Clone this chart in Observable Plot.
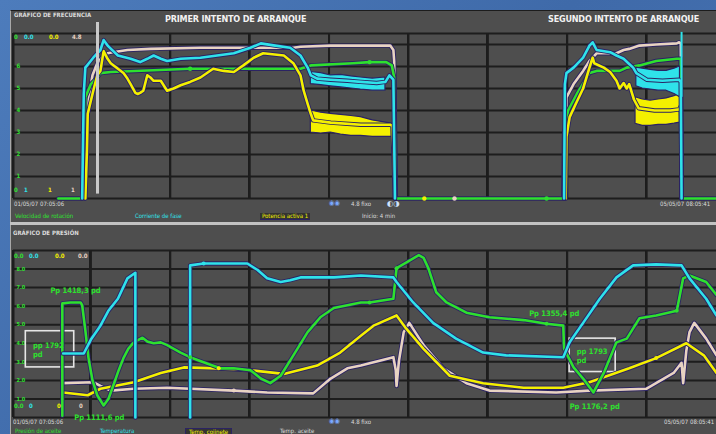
<!DOCTYPE html>
<html><head><meta charset="utf-8">
<script src="https://cdn.jsdelivr.net/npm/d3@7"></script>
<script src="https://cdn.jsdelivr.net/npm/@observablehq/plot@0.6"></script>
<style>
html,body{margin:0;padding:0;}
body{width:716px;height:434px;overflow:hidden;position:relative;
  background:#4572b1;background-image:linear-gradient(135deg,#4d7cbc 0%,#3f6aa9 50%,#4874b4 100%);}
#panel{position:absolute;left:10px;top:10px;width:706px;height:424px;background:#4e4e4e;
  border-top:1px solid #1c1c1c;border-left:1px solid #a8a8a8;box-sizing:border-box;}
#sep{position:absolute;left:10px;top:222px;width:706px;height:3px;background:#c2c2c2;}
#cols{position:absolute;left:0;top:0;width:716px;height:434px;}
.col{position:absolute;width:2px;background:#1d1d1d;}
.chart{position:absolute;left:0;width:716px;}
.t{position:absolute;font-family:"Liberation Sans Narrow","DejaVu Sans Condensed",sans-serif;font-size:6px;line-height:1;white-space:nowrap;color:#e6e6e6;}
.ti{position:absolute;font-family:"DejaVu Sans Condensed","Liberation Sans Narrow",sans-serif;font-weight:bold;font-size:9px;line-height:1;white-space:nowrap;color:#f2f2f2;letter-spacing:-0.2px;}
.b{font-weight:bold;}
</style></head><body>
<div id="panel"></div>
<div id="sep"></div>
<div id="cols"></div>
<div id="topc" class="chart" style="top:0"></div>
<div id="botc" class="chart" style="top:222px"></div>
<div id="labels"></div>
<script>
// ---------- DATA (x: time units, grid every 10; y: divisions) ----------
const titles = ["PRIMER INTENTO DE ARRANQUE", "SEGUNDO INTENTO DE ARRANQUE"];
const panelNames = ["GRÁFICO DE FRECUENCIA", "GRÁFICO DE PRESIÓN"];
const topLegend = ["Velocidad de rotación", "Corriente de fase", "Potencia activa 1", "Inicio: 4 min"];
const botLegend = ["Presión de aceite", "Temperatura", "Temp. cojinete", "Temp. aceite"];
const timeStart = "01/05/07 07:05:06";
const timeEnd = "05/05/07 08:05:41";
const zoomText = "4.8 fixo";

const xGridTop = [0.25, 20, 30, 40, 50, 60, 70, 80];
const xGridBot = [0.25, 10, 20, 30, 40, 50, 60, 70, 80];
const topGridY = [0, 1, 2, 3, 4, 5, 6, 7, 7.5];
const botGridY = [0, 1, 2, 3, 4, 5, 6, 7, 8, 9];
const topTicks = [1, 2, 3, 4, 5, 6];
const topTickLabels = ["1", "2", "3", "4", "5", "6"];
const botTicks = [1, 2, 3, 4, 5, 6, 7, 8];
const botTickLabels = ["1.0", "2.0", "3.0", "4.0", "5.0", "6.0", "7.0", "8.0"];

// top panel (frequency / power)
const topGreen = [[5.9,0],[8.9,0],[9.3,4.6],[10.0,5.2],[10.8,5.5],[11.2,5.7],[12.5,5.75],[22.5,5.9],[36.4,5.9],[37.7,6.05],[43.0,6.15],[45.1,6.2],[47.2,6.2],[47.9,6.05],[48.2,5.5],[48.4,0],[69.5,0],[69.6,2.95],[70.1,4.0],[71.2,4.75],[72.8,5.7],[73.7,5.8],[76.6,5.8],[77.5,5.95],[79.1,6.05],[81.2,6.25],[83.8,6.35],[84.3,6.35],[84.4,0],[88.8,0]];
const topCyan1 = [[8.9,0],[9.1,4.75],[9.3,5.95],[10.3,6.4],[11.2,6.75],[11.6,7.2],[12.1,6.95],[13.4,6.5],[15.0,6.35],[16.2,6.2],[17.1,6.35],[17.9,6.5],[18.8,6.35],[19.6,6.25],[21.3,6.35],[23.8,6.4],[28.0,6.6],[30.1,6.85],[31.4,7.05],[33.2,6.95],[35.1,6.85],[36.4,6.5],[37.3,5.95],[37.7,5.6],[38.5,5.45],[40.2,5.4],[42.3,5.35],[44.0,5.3],[46.0,5.25],[47.1,5.3],[47.6,5.6],[48.1,5.4],[48.3,0]];
const topCyanBand1 = [[37.7,5.2,5.75],[39.0,5.15,5.7],[40.2,5.1,5.6],[41.5,5.05,5.62],[42.8,5.0,5.55],[44.0,4.95,5.5],[45.5,4.9,5.45],[47.1,4.9,5.5]];
const topYellow1 = [[9.3,0],[9.5,2.2],[9.6,3.85],[10.3,4.9],[10.8,5.6],[11.2,5.8],[11.6,6.7],[12.1,6.35],[12.5,6.15],[13.4,5.9],[14.1,5.7],[14.6,5.45],[15.0,5.2],[15.6,4.8],[15.9,4.75],[16.2,4.8],[16.6,4.9],[17.1,5.6],[17.5,5.5],[17.9,5.35],[18.8,5.35],[19.6,4.9],[20.4,5.0],[21.3,5.15],[22.5,5.3],[23.8,5.5],[25.4,5.9],[26.7,5.8],[28.0,5.75],[29.2,6.05],[30.5,6.4],[31.7,6.6],[34.3,6.5],[35.5,6.15],[36.4,5.6],[36.8,4.9],[37.3,4.3],[37.7,3.85],[38.0,3.55],[40.2,3.45],[44.0,3.35],[47.7,3.35],[48.0,3.3],[48.3,0]];
const topYellowBand1 = [[37.7,3.0,4.0],[39.0,2.95,3.9],[40.2,3.0,3.85],[41.5,2.9,3.8],[42.8,2.85,3.75],[44.0,2.85,3.7],[45.5,2.8,3.55],[47.9,2.8,3.4]];
const topWhite1 = [[9.2,0],[9.3,2.65],[9.7,4.5],[10.2,5.6],[10.8,6.15],[11.6,6.5],[12.1,6.6],[12.8,6.65],[14.6,6.75],[17.5,6.8],[23.8,6.85],[30.1,6.85],[35.5,6.85],[36.4,6.9],[40.2,6.95],[44.0,6.95],[47.7,6.95],[48.1,6.75],[48.2,6.25],[48.4,0]];
const topCyan2 = [[69.6,0],[69.7,5.2],[69.9,5.7],[70.8,5.95],[72.0,6.4],[72.8,6.95],[73.2,7.1],[73.7,6.75],[75.4,6.65],[76.2,6.5],[77.1,6.35],[77.7,6.15],[78.3,5.95],[78.7,5.7],[80.0,5.4],[82.0,5.35],[84.1,5.4],[84.3,5.3],[84.4,0]];
const topCyanBand2 = [[78.7,5.1,5.95],[79.5,5.0,5.9],[80.5,4.95,5.85],[81.5,4.9,5.8],[82.5,4.9,5.8],[83.5,4.75,5.9],[84.2,4.6,6.0]];
const topYellow2 = [[69.8,0],[69.9,2.8],[70.3,3.7],[71.2,4.4],[72.0,5.0],[72.8,5.95],[73.2,6.4],[73.4,6.15],[74.6,5.95],[75.4,5.75],[76.2,5.35],[76.6,5.0],[77.1,5.25],[77.5,5.0],[77.8,5.2],[78.4,4.5],[79.0,4.1],[81.0,4.0],[83.0,4.0],[84.1,4.05],[84.3,4.2],[84.4,0]];
const topYellowBand2 = [[78.6,3.4,4.6],[79.5,3.3,4.5],[80.5,3.3,4.45],[81.5,3.35,4.5],[82.5,3.35,4.55],[83.5,3.4,4.65],[84.2,3.45,4.75]];
const topWhite2 = [[69.7,0],[69.9,4.6],[70.8,5.2],[72.0,5.8],[72.8,6.25],[73.7,6.6],[74.9,6.6],[76.2,6.6],[77.1,6.75],[77.8,6.8],[79.1,6.95],[81.2,7.0],[83.8,7.05],[84.1,7.1],[84.3,7.05],[84.4,0]];
const topMarkers = [{x:22.5,y:5.9,s:"g"},{x:45.1,y:6.2,s:"g"},{x:52.0,y:0,s:"y"},{x:55.8,y:0,s:"w"},{x:67.4,y:0,s:"g"}];
const topCursors = [{x:10.83,y1:0.2,y2:8.0,s:"w"},{x:84.4,y1:4.6,y2:7.55,s:"c"}];

// bottom panel (pressure / temperatures)
const botGreen = [[6.4,0.1],[6.4,6.15],[7.4,6.2],[8.7,6.2],[8.9,6.05],[9.3,4.7],[9.7,3.2],[10.2,2.0],[10.8,1.2],[11.6,0.65],[12.2,1.0],[12.8,1.7],[13.5,2.55],[14.1,3.2],[14.7,3.7],[15.4,4.05],[16.5,4.3],[17.1,4.1],[17.9,4.0],[18.8,4.05],[19.6,3.9],[21.3,3.5],[22.5,3.25],[24.7,2.9],[26.3,2.65],[28.0,2.65],[30.1,2.55],[31.4,2.1],[32.6,1.85],[33.9,2.25],[35.5,3.35],[37.3,4.6],[38.9,5.4],[40.6,5.9],[42.3,6.05],[44.0,6.2],[45.1,6.2],[48.1,6.4],[48.5,8.05],[49.7,8.35],[51.3,8.75],[51.9,8.6],[52.5,8.05],[53.5,6.75],[54.8,6.2],[57.3,5.65],[60.2,5.4],[64.5,5.25],[67.4,5.05],[69.5,4.95],[69.6,3.7],[70.8,2.7],[72.0,2.1],[73.3,1.35],[74.6,2.4],[76.2,4.05],[77.5,4.25],[78.3,4.8],[79.1,5.35],[81.2,5.5],[83.8,5.75],[84.6,7.5],[85.4,7.65],[87.5,7.3],[88.8,6.6]];
const botCyan = [[6.5,3.45],[9.1,3.45],[10.0,4.2],[11.2,4.95],[12.2,5.75],[13.4,6.4],[14.6,7.5],[15.6,7.8],[15.6,0],[19.0,null],[22.5,0],[22.5,8.2],[24.2,8.3],[29.7,8.3],[31.0,7.95],[32.2,7.5],[33.9,7.3],[35.1,7.4],[36.4,7.55],[40.6,7.55],[44.0,7.65],[48.1,7.55],[48.5,7.3],[50.6,6.2],[53.1,5.1],[56.0,4.25],[59.4,3.5],[62.3,3.35],[69.5,3.25],[70.3,4.05],[72.0,5.1],[74.1,6.4],[76.2,7.55],[78.3,8.2],[81.2,8.25],[84.4,8.2],[85.4,7.5],[87.5,6.4],[88.8,5.5]];
const botYellow = [[6.5,1.35],[9.6,1.2],[11.2,1.55],[15.4,1.9],[18.8,2.4],[21.7,2.7],[25.9,2.65],[30.1,2.55],[34.3,2.35],[38.5,2.8],[41.4,3.5],[44.0,4.4],[45.6,4.95],[48.5,5.5],[49.7,4.8],[51.9,3.7],[55.2,2.25],[59.4,1.85],[64.5,1.6],[69.5,1.6],[72.8,1.9],[77.8,2.65],[81.2,3.2],[85.0,4.0],[87.2,3.35],[88.8,2.4]];
const botWhite = [[6.5,1.85],[10.3,1.9],[11.2,1.7],[12.5,1.45],[15.4,1.55],[19.6,1.6],[28.0,1.45],[32.2,1.35],[38.0,1.3],[40.2,2.1],[42.3,2.65],[44.0,2.8],[48.1,3.25],[48.4,2.55],[48.5,1.7],[48.8,3.05],[49.4,4.6],[50.1,5.1],[51.9,3.9],[54.4,2.65],[57.3,1.85],[60.2,1.45],[68.6,1.35],[72.8,1.45],[80.0,1.55],[83.4,2.4],[84.4,2.95],[84.6,1.85],[85.0,3.6],[85.4,4.6],[86.0,5.1],[87.5,4.25],[88.8,3.35]];
const botMarkers = [{x:24.2,y:8.3,s:"c"},{x:22.5,y:3.25,s:"g"},{x:26.1,y:2.65,s:"y"},{x:28.0,y:1.45,s:"w"},{x:45.1,y:6.2,s:"g"},{x:48.5,y:8.05,s:"g"},{x:67.4,y:5.05,s:"g"},{x:83.8,y:5.75,s:"g"},{x:81.2,y:3.2,s:"y"}];
const botNotes = [{x:4.9,y:6.85,text:"Pp 1418,3 pd"},{x:7.9,y:0.02,text:"Pp 1111,6 pd"},{x:65.2,y:5.6,text:"Pp 1355,4 pd"},{x:70.3,y:0.6,text:"Pp 1176,2 pd"}];
const botBoxes = [{x1:1.8,x2:7.9,y1:2.7,y2:4.65,text:"pp 1792\npd"},{x1:70.3,x2:76.1,y1:2.45,y2:4.25,text:"pp 1793\npd"}];

// ---------- STYLE ----------
const C = {g:"#2ee02e", c:"#2fe2ea", y:"#f4f000", w:"#e8d3c2"};
const OUT = "#2b2363";
const GRID = "#1d1d1d";
const FONT = "Liberation Sans Narrow, DejaVu Sans Condensed, sans-serif";

function trace(data, color, w = 2.6) {
  return [
    Plot.line(data, {x: d => d[0], y: d => d[1], stroke: OUT, strokeWidth: w + 1.8, strokeLinejoin: "round"}),
    Plot.line(data, {x: d => d[0], y: d => d[1], stroke: color, strokeWidth: w, strokeLinejoin: "round"})
  ];
}
function band(data, color) {
  return Plot.areaY(data, {x: d => d[0], y1: d => d[1], y2: d => d[2], fill: color, stroke: OUT, strokeWidth: 1.2});
}
function grid(gx, gy, ymax) {
  const cols = gx.map(v => ({x: v, y1: 0, y2: ymax}));
  return [
    Plot.ruleY(gy, {y: d => d, stroke: GRID, strokeWidth: 2}),
    Plot.ruleX(cols, {x: "x", y1: "y1", y2: "y2", stroke: GRID, strokeWidth: 2})
  ];
}
// Vertical divisions also placed (via the chart's own scales) as a layer beneath the transparent chart.
function addColumns(chart, gx, ymax, offsetTop) {
  const sx = chart.scale("x"), sy = chart.scale("y");
  const host = document.getElementById("cols");
  const yTop = sy.apply(ymax), yBot = sy.apply(0);
  for (const v of gx) {
    const d = document.createElement("div");
    d.className = "col";
    d.style.left = (sx.apply(v) - 1) + "px";
    d.style.top = (offsetTop + yTop) + "px";
    d.style.height = (yBot - yTop) + "px";
    host.append(d);
  }
}

const X = {domain: [0.25, 88.8], axis: null};

const topChart = Plot.plot({
  width: 716, height: 222, marginLeft: 13, marginRight: 0, marginTop: 33, marginBottom: 24,
  x: X, y: {domain: [0, 7.5], axis: null},
  style: {background: "transparent", overflow: "visible"},
  marks: [
    ...grid(xGridTop, topGridY, 7.5),
    Plot.axisY(topTicks, {anchor: "left", tickSize: 0, tickPadding: -3, textAnchor: "start",
      tickFormat: (d, i) => topTickLabels[i], fill: C.g, fontSize: 6, fontWeight: "bold", fontFamily: FONT, label: null}),
    ...trace(topWhite1, C.w), ...trace(topWhite2, C.w),
    ...trace(topGreen, C.g),
    band(topYellowBand1, C.y), band(topYellowBand2, C.y),
    ...trace(topYellow1, C.y), ...trace(topYellow2, C.y),
    band(topCyanBand1, C.c), band(topCyanBand2, C.c),
    ...trace(topCyan1, C.c), ...trace(topCyan2, C.c),
    Plot.ruleX(topCursors, {x: "x", y1: "y1", y2: "y2", stroke: d => d.s === "w" ? "#c9c9c9" : C.c, strokeWidth: d => d.s === "w" ? 3 : 2, clip: false}),
    Plot.dot(topMarkers, {x: "x", y: "y", r: 2.2, fill: d => C[d.s], stroke: "none"})
  ]
});
document.getElementById("topc").append(topChart);
addColumns(topChart, xGridTop, 7.5, 0);

const botChart = Plot.plot({
  width: 716, height: 212, marginLeft: 13, marginRight: 0, marginTop: 28, marginBottom: 17,
  x: X, y: {domain: [0, 9], axis: null},
  style: {background: "transparent", overflow: "visible"},
  marks: [
    ...grid(xGridBot, botGridY, 9),
    Plot.axisY(botTicks, {anchor: "left", tickSize: 0, tickPadding: -3, textAnchor: "start",
      tickFormat: (d, i) => botTickLabels[i], fill: C.g, fontSize: 5.5, fontWeight: "bold", fontFamily: FONT, label: null}),
    Plot.rect(botBoxes, {x1: "x1", x2: "x2", y1: "y1", y2: "y2", fill: "#555", fillOpacity: 0.35, stroke: "#e6e6e6", strokeWidth: 1.6}),
    ...trace(botWhite, C.w), ...trace(botYellow, C.y),
    ...trace(botGreen, C.g), ...trace(botCyan, C.c),
    Plot.dot(botMarkers, {x: "x", y: "y", r: 2, fill: d => C[d.s], stroke: "none"}),
    Plot.text(botBoxes, {x: d => d.x1 + 0.9, y: d => (d.y1 + d.y2) / 2, text: "text", textAnchor: "start", lineHeight: 1.25,
      fill: C.g, fontSize: 7.5, fontWeight: "bold", fontFamily: FONT}),
    Plot.text(botNotes, {x: "x", y: "y", text: "text", textAnchor: "start", fill: C.g, fontSize: 7.5, fontWeight: "bold", fontFamily: FONT, clip: false})
  ]
});
document.getElementById("botc").append(botChart);
addColumns(botChart, xGridBot, 9, 222);

// ---------- HTML labels (titles, legends, footers) ----------
const L = document.getElementById("labels");
function lab(text, left, topPx, color, cls = "t", extra = "") {
  const d = document.createElement("div");
  d.className = cls;
  d.textContent = text;
  d.style.cssText = `left:${left}px;top:${topPx}px;${color ? "color:" + color + ";" : ""}${extra}`;
  L.append(d);
}
lab(panelNames[0], 14, 12, "#dcdcdc", "t b");
lab(titles[0], 165, 15, null, "ti");
lab(titles[1], 548, 15, null, "ti");
lab("0", 14, 34, C.g, "t b"); lab("0.0", 24, 34, C.c, "t b"); lab("0.0", 49, 34, C.y, "t b"); lab("4.8", 72, 34, C.w, "t b");
lab("0", 14, 187, C.g, "t b"); lab("1", 24, 187, C.c, "t b"); lab("1", 48, 187, C.y, "t b"); lab("1", 71, 187, C.w, "t b");
lab(timeStart, 14, 201, "#dcdcdc");
lab("◉◉", 329, 200, "#7aa8ff", "t", "font-size:7px;");
lab(zoomText, 351, 201, "#dcdcdc");
lab("◐◑", 387, 200, "#cfe2ff", "t", "font-size:8px;");
lab(timeEnd, 660, 201, "#dcdcdc");
lab(topLegend[0], 15, 213, C.g);
lab(topLegend[1], 135, 213, C.c);
lab(topLegend[2], 260, 213, C.y, "t", "background:#333;padding:0 2px;border-bottom:1px solid #2b2363;");
lab(topLegend[3], 362, 213, "#dcdcdc");
lab(panelNames[1], 13, 230, "#dcdcdc", "t b");
lab("0.0", 14, 253, C.g, "t b"); lab("0.0", 29, 253, C.c, "t b"); lab("0.0", 55, 253, C.y, "t b"); lab("0.0", 78, 253, C.w, "t b");
lab("0.0", 14, 403, C.g, "t b"); lab("0", 29, 403, C.c, "t b"); lab("0", 57, 403, C.y, "t b"); lab("0", 79, 403, C.w, "t b");
lab(timeStart, 13, 419, "#dcdcdc");
lab("◉◉", 329, 418, "#7aa8ff", "t", "font-size:7px;");
lab(zoomText, 351, 419, "#dcdcdc");
lab(timeEnd, 664, 419, "#dcdcdc");
lab(botLegend[0], 15, 428, C.g);
lab(botLegend[1], 100, 428, C.c);
lab(botLegend[2], 185, 428, C.y, "t", "background:#333;padding:0 3px;border:1px solid #2b2363;");
lab(botLegend[3], 280, 428, "#dcdcdc");
</script>
</body></html>
